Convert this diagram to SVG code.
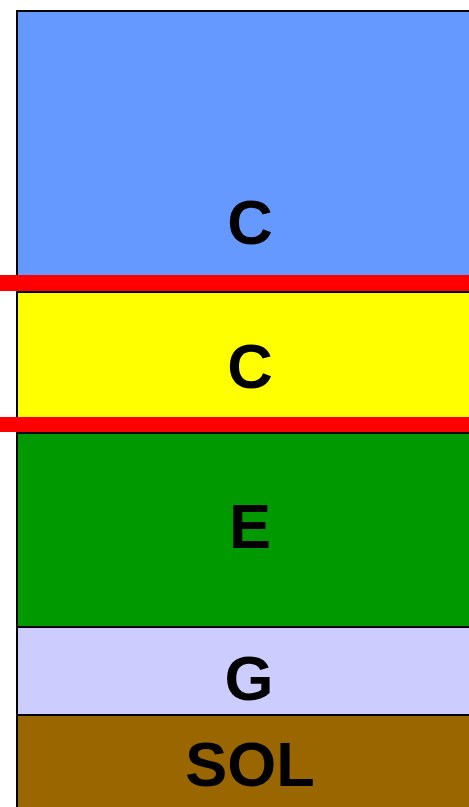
<svg xmlns="http://www.w3.org/2000/svg" width="469" height="807" viewBox="0 0 469 807">
<style>
.layer{stroke:#000;stroke-width:2}
.lbl{font-family:"Liberation Sans",Arial,sans-serif;font-weight:bold;font-size:63px;text-anchor:middle;fill:#000}
.cut{fill:#ff0000}
</style>
<g id="layer-c-top"><rect class="layer" x="17" y="11" width="470" height="281" fill="#6699ff"/><text class="lbl" x="250" y="244">C</text></g>
<g id="layer-c-mid"><rect class="layer" x="17" y="292" width="470" height="141" fill="#ffff00"/><text class="lbl" x="250" y="388">C</text></g>
<g id="layer-e"><rect class="layer" x="17" y="433" width="470" height="194" fill="#009900"/><text class="lbl" x="250" y="548">E</text></g>
<g id="layer-g"><rect class="layer" x="17" y="627" width="470" height="88" fill="#ccccff"/><text class="lbl" x="249" y="700">G</text></g>
<g id="layer-sol"><rect class="layer" x="17" y="715" width="470" height="110" fill="#996600"/><text class="lbl" x="250" y="786">SOL</text></g>
<g id="connectors"><rect class="cut" x="0" y="275" width="469" height="16"/><rect class="cut" x="0" y="417" width="469" height="15"/></g>
</svg>
